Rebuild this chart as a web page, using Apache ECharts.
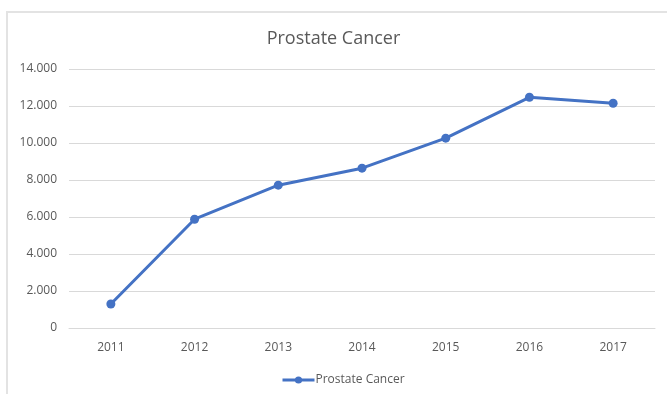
<!DOCTYPE html>
<html>
<head>
<meta charset="utf-8">
<script src="https://cdn.jsdelivr.net/npm/echarts@6/dist/echarts.min.js"></script>
<style>
  html, body { margin: 0; padding: 0; background: #fff; }
  #chart { width: 667px; height: 394px; }
</style>
</head>
<body>
<div id="chart"></div>
<script>
// Yearly case counts
const years = ['2011', '2012', '2013', '2014', '2015', '2016', '2017'];
const prostateCancer = [1300, 5880, 7720, 8640, 10260, 12470, 12150];
const seriesName = 'Prostate Cancer';

const textColor = '#595959';
const lineColor = '#4472C4';
const fontFamily = '"Open Sans", "Noto Sans", sans-serif';

// Thousands separator shown as a dot
function fmt(v) {
  return String(v).replace(/\B(?=(\d{3})+(?!\d))/g, '.');
}

const chart = echarts.init(document.getElementById('chart'), null, { renderer: 'canvas' });
chart.setOption({
  animation: false,
  backgroundColor: '#fff',
  textStyle: { fontFamily: fontFamily },
  graphic: [
    {
      type: 'polyline',
      shape: { points: [[7, 400], [7, 12], [680, 12]] },
      style: { stroke: '#e3e3e3', lineWidth: 2, fill: null },
      silent: true
    }
  ],
  title: {
    text: 'Prostate Cancer',
    left: 'center',
    top: 25,
    textStyle: { color: textColor, fontSize: 18, fontWeight: 'normal', fontFamily: fontFamily }
  },
  legend: {
    top: 369,
    left: 276,
    itemWidth: 32,
    itemHeight: 9,
    itemGap: 4,
    lineStyle: { width: 3 },
    textStyle: { color: textColor, fontSize: 12, fontFamily: fontFamily, padding: [0, 0, 0, -4] },
    data: [seriesName]
  },
  grid: { left: 69, right: 12, top: 69, bottom: 66, containLabel: false },
  xAxis: {
    type: 'category',
    data: years,
    boundaryGap: true,
    axisLine: { lineStyle: { color: '#d9d9d9', width: 1 } },
    axisTick: { show: false },
    axisLabel: { color: textColor, fontSize: 12, margin: 14, fontFamily: fontFamily }
  },
  yAxis: {
    type: 'value',
    min: 0,
    max: 14000,
    interval: 2000,
    axisLine: { show: false },
    axisTick: { show: false },
    splitLine: { lineStyle: { color: '#d9d9d9', width: 1 } },
    axisLabel: { color: textColor, fontSize: 12, margin: 12, formatter: fmt, fontFamily: fontFamily }
  },
  series: [
    {
      name: seriesName,
      type: 'line',
      data: prostateCancer,
      symbol: 'circle',
      symbolSize: 9,
      lineStyle: { color: lineColor, width: 3 },
      itemStyle: { color: lineColor }
    }
  ]
});
</script>
</body>
</html>
